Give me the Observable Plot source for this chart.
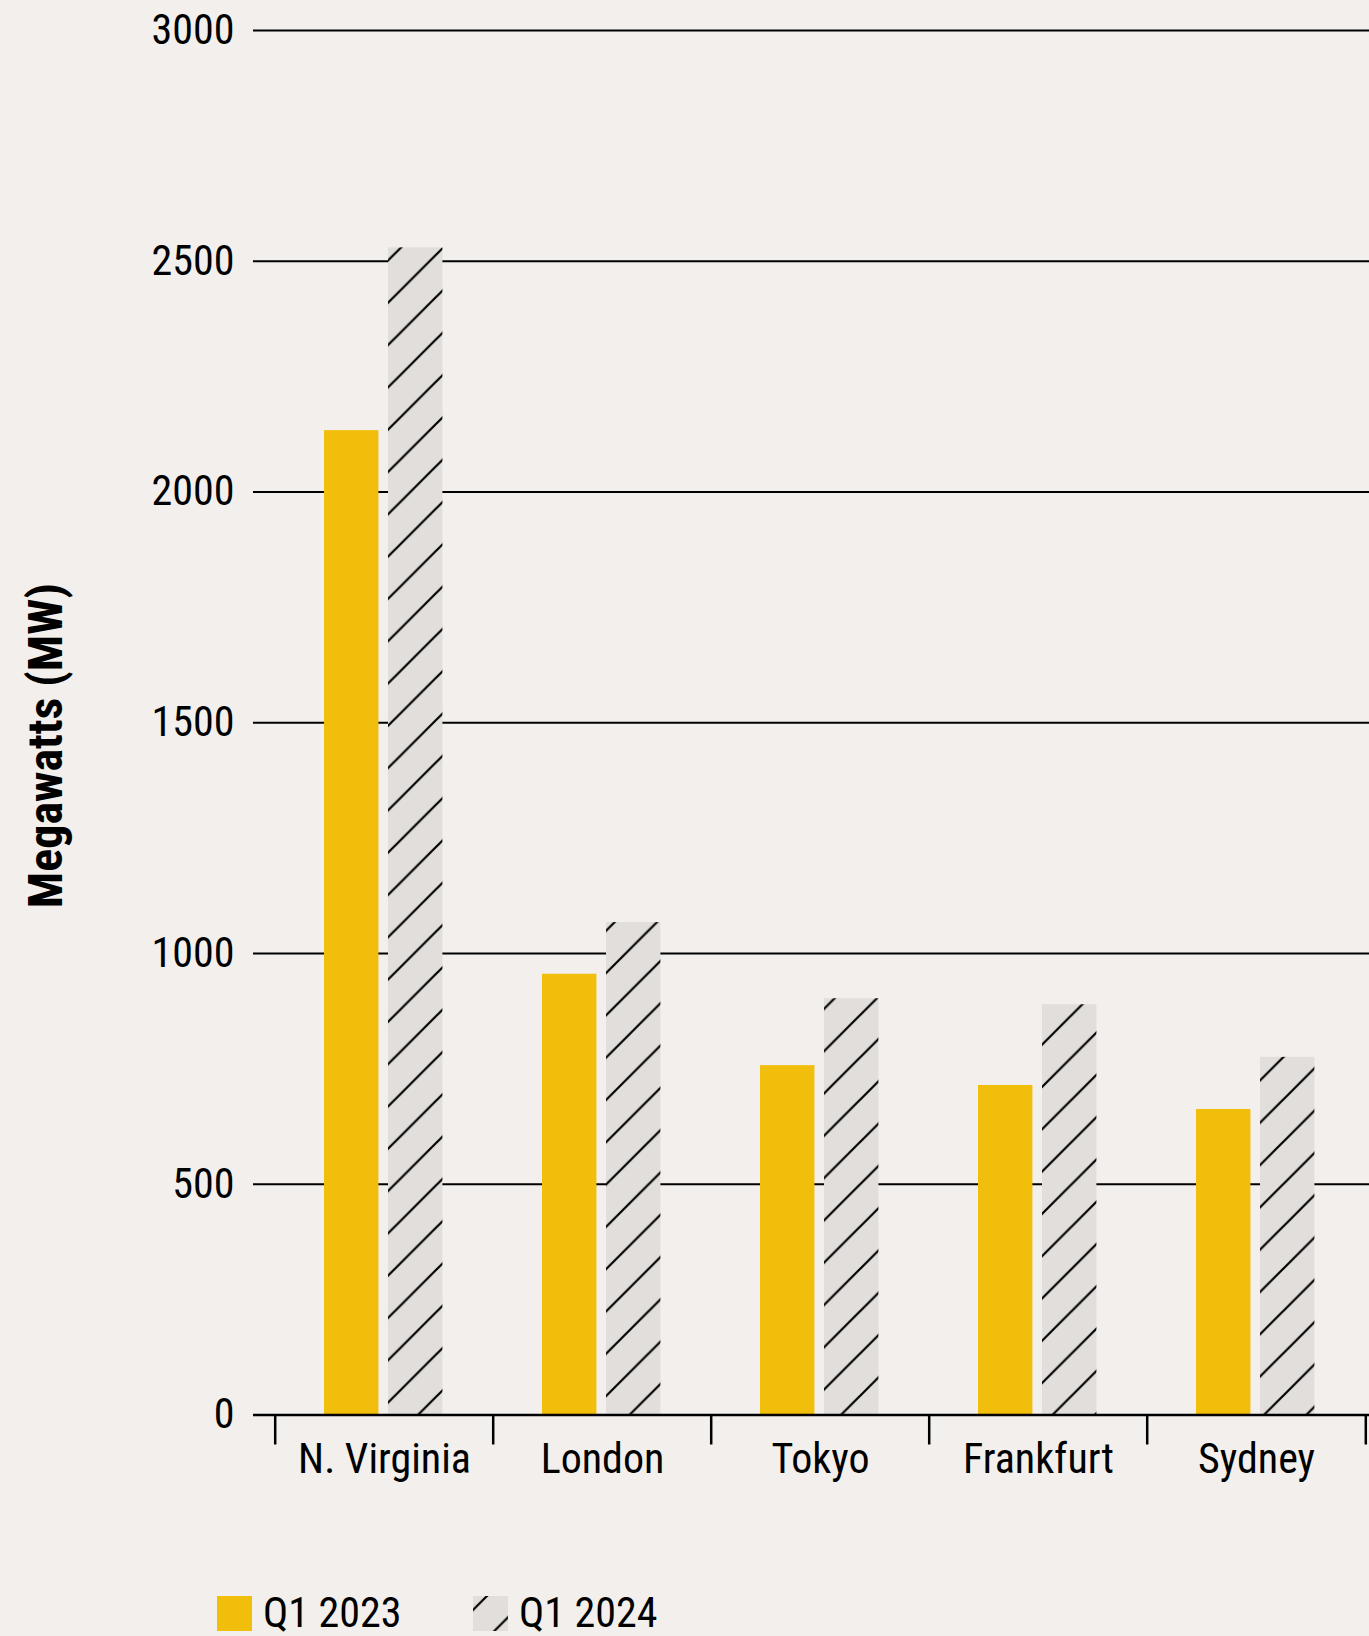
<!DOCTYPE html>
<html>
<head>
<meta charset="utf-8">
<script src="https://cdn.jsdelivr.net/npm/d3@7"></script>
<script src="https://cdn.jsdelivr.net/npm/@observablehq/plot@0.6"></script>
<style>
  html, body { margin: 0; padding: 0; background: #f2efec; }
  #wrap { position: relative; width: 1369px; height: 1636px; overflow: hidden; }
  #chart svg { display: block; }
  .leg { position: absolute; font-family: "Roboto Condensed", "Liberation Sans Narrow", "DejaVu Sans Condensed", sans-serif; font-size: 42px; color: #000; line-height: 42px; height: 42px; white-space: nowrap; }
  .sw { position: absolute; width: 35px; height: 35px; }
</style>
</head>
<body>
<svg width="0" height="0" style="position:absolute">
  <defs>
    <pattern id="hatch" patternUnits="userSpaceOnUse" width="42.3" height="42.3" patternTransform="translate(14,0)">
      <rect width="42.3" height="42.3" fill="#e1dedb"></rect>
      <path d="M-10.575,10.575 L10.575,-10.575 M0,42.3 L42.3,0 M31.725,52.875 L52.875,31.725" stroke="#000" stroke-width="2.2"></path>
    </pattern>
  </defs>
</svg>
<div id="wrap">
  <div id="chart"></div>
  <div id="legend"></div>
</div>
<script>
const cities = ["N. Virginia", "London", "Tokyo", "Frankfurt", "Sydney"];
const seriesNames = ["Q1 2023", "Q1 2024"];
const q1_2023 = [2133, 955, 757, 714, 662];
const q1_2024 = [2529, 1067, 902, 889, 775];
const yTicks = [0, 500, 1000, 1500, 2000, 2500, 3000];
const yLabel = "Megawatts (MW)";
const seriesFills = ["#f2be0c", "url(#hatch)"];

const rows = cities.flatMap((c, i) => [
  {city: c, series: seriesNames[0], value: q1_2023[i]},
  {city: c, series: seriesNames[1], value: q1_2024[i]}
]);

const W = 1369, H = 1500;
const xRange = [273, 1366];
const bw = (xRange[1] - xRange[0]) / cities.length;
const barW = 55;
const font = '"Roboto Condensed", "Liberation Sans Narrow", "DejaVu Sans Condensed", sans-serif';

const chart = Plot.plot({
  width: W,
  height: H,
  marginTop: 30,
  marginBottom: 85.5,
  marginLeft: 253,
  marginRight: 0,
  style: {background: "transparent", fontFamily: font, fontSize: "42px", color: "#000", overflow: "visible"},
  x: {domain: cities, range: xRange, padding: 0, axis: null},
  y: {domain: [0, 3000], axis: null},
  marks: [
    Plot.ruleY(yTicks.filter(d => d > 0), {stroke: "#000", strokeWidth: 2.2}),
    Plot.barY(rows.filter(d => d.series === seriesNames[0]), {
      x: "city", y: "value", fill: seriesFills[0],
      insetLeft: 49, insetRight: bw - 49 - barW
    }),
    Plot.barY(rows.filter(d => d.series === seriesNames[1]), {
      x: "city", y: "value", fill: seriesFills[1],
      insetLeft: 113, insetRight: bw - 113 - barW
    }),
    Plot.ruleY([0], {stroke: "#000", strokeWidth: 2.5}),
    Plot.axisY(yTicks, {tickSize: 0, tickPadding: 19, label: null, fontSize: 42, tickFormat: d => String(d), fill: "#000"}),
    Plot.axisX(cities, {tickSize: 0, tickPadding: 28.5, label: null, fontSize: 42, fill: "#000"}),
    Plot.axisX(cities, {tickSize: 30, tickPadding: 0, label: null, tickFormat: () => "", dx: -bw / 2, stroke: "#000", strokeWidth: 2.5}),
    Plot.axisX([cities[cities.length - 1]], {tickSize: 30, tickPadding: 0, label: null, tickFormat: () => "", dx: bw / 2, stroke: "#000", strokeWidth: 2.5}),
    Plot.text([yLabel], {
      text: d => d, frameAnchor: "left", textAnchor: "middle", rotate: -90,
      dx: 46 - 253, dy: 745 - (30 + (H - 85.5)) / 2,
      fontSize: 48, fontWeight: "bold", fill: "#000"
    })
  ]
});
document.getElementById("chart").appendChild(chart);

// Legend below the SVG
const legend = document.getElementById("legend");
const legPos = [{sw: 217, tx: 263}, {sw: 473, tx: 519}];
seriesNames.forEach((name, i) => {
  const s = document.createElementNS("http://www.w3.org/2000/svg", "svg");
  s.setAttribute("class", "sw");
  s.setAttribute("width", 35);
  s.setAttribute("height", 35);
  s.style.left = legPos[i].sw + "px";
  s.style.top = "1596px";
  const r = document.createElementNS("http://www.w3.org/2000/svg", "rect");
  r.setAttribute("width", 35);
  r.setAttribute("height", 35);
  r.setAttribute("fill", seriesFills[i]);
  s.appendChild(r);
  legend.appendChild(s);
  const t = document.createElement("div");
  t.className = "leg";
  t.textContent = name;
  t.style.left = legPos[i].tx + "px";
  t.style.top = "1592px";
  legend.appendChild(t);
});
</script>
</body>
</html>
